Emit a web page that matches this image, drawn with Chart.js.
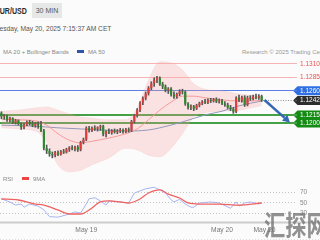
<!DOCTYPE html>
<html>
<head>
<meta charset="utf-8">
<script src="https://cdn.jsdelivr.net/npm/chart.js@4.4.0/dist/chart.umd.min.js"></script>
<style>
html, body { margin: 0; padding: 0; background: #fbfbfb; }
body { width: 320px; height: 240px; overflow: hidden; position: relative; font-family: "Liberation Sans", Arial, sans-serif; }
.abs { position: absolute; white-space: nowrap; line-height: 1; }
#pair { left: -4.7px; top: 7.2px; font-size: 9.3px; font-weight: bold; color: #2a2a2a; transform: scaleX(0.76); transform-origin: 0 0; }
#tf { left: 32px; top: 3px; width: 30px; height: 15px; background: #e6e8e8; color: #555; font-size: 7px; display: flex; align-items: center; justify-content: center; }
#date { left: -7.8px; top: 25px; font-size: 7.4px; color: #555; transform: scaleX(0.9); transform-origin: 0 0; }
#legend { left: -9px; top: 48.9px; font-size: 6px; color: #888; }
.sw { display: inline-block; width: 7px; height: 2.5px; vertical-align: 1px; }
#copy { left: 242px; top: 48.9px; font-size: 6px; color: #999; }
#rsiLegend { left: 3px; top: 175.9px; font-size: 6px; color: #888; z-index: 2; }
#mark { left: 264px; top: 210px; font-size: 28px; font-weight: bold; color: rgba(110,110,110,0.75); font-family: "Noto Sans CJK SC", sans-serif; transform: scaleX(0.76); transform-origin: 0 0; z-index: 3; }
canvas { position: absolute; left: 0; }
#main { top: 56px; }
#rsi { top: 178px; }
</style>
</head>
<body>
<div id="pair" class="abs">EUR/USD</div>
<div id="tf" class="abs">30 MIN</div>
<div id="date" class="abs">Tuesday, May 20, 2025 7:15:37 AM CET</div>
<div id="legend" class="abs"><span class="sw" style="background:#f4a0a0;margin-right:5px"></span>MA 20 + Bollinger Bands<span class="sw" style="background:#2f55a8;margin-left:8px;margin-right:4px"></span>MA 50</div>
<div id="copy" class="abs">Research © 2025 Trading Central</div>
<canvas id="main" width="320" height="122"></canvas>
<canvas id="rsi" width="320" height="62"></canvas>
<div id="rsiLegend" class="abs">RSI<span class="sw" style="background:#ee4444;margin-left:9px;margin-right:4px"></span>9MA</div>
<div id="mark" class="abs">汇探网</div>
<script>
// 30 min candles, index 0 = May 18 21:00 ... 92 = May 20 07:00
const opens = [1.1219, 1.1212, 1.1214, 1.1206, 1.1209, 1.1201, 1.1205, 1.1198, 1.1192, 1.1197,
    1.1202, 1.1199, 1.1195, 1.1199, 1.1196, 1.1186, 1.1153, 1.1148, 1.1142, 1.1140,
    1.1145, 1.1141, 1.1147, 1.1145, 1.1151, 1.1154, 1.1152, 1.1155, 1.1150, 1.1164,
    1.1169, 1.1190, 1.1186, 1.1191, 1.1189, 1.1192, 1.1194, 1.1179, 1.1184, 1.1182,
    1.1186, 1.1183, 1.1185, 1.1187, 1.1184, 1.1188, 1.1186, 1.1203, 1.1214, 1.1224,
    1.1238, 1.1246, 1.1255, 1.1265, 1.1274, 1.1280, 1.1284, 1.1272, 1.1268, 1.1261,
    1.1264, 1.1253, 1.1249, 1.1254, 1.1259, 1.1258, 1.1236, 1.1229, 1.1231, 1.1227,
    1.1233, 1.1237, 1.1240, 1.1238, 1.1243, 1.1241, 1.1244, 1.1240, 1.1242, 1.1236,
    1.1234, 1.1229, 1.1226, 1.1221, 1.1247, 1.1243, 1.1248, 1.1234, 1.1247, 1.1245,
    1.1249, 1.1247, 1.1250];
const highs = [1.1221, 1.1216, 1.1215, 1.1211, 1.1210, 1.1207, 1.1206, 1.1200, 1.1199, 1.1204,
    1.1205, 1.1203, 1.1201, 1.1202, 1.1203, 1.1188, 1.1159, 1.1152, 1.1146, 1.1147,
    1.1148, 1.1149, 1.1151, 1.1153, 1.1156, 1.1158, 1.1157, 1.1158, 1.1166, 1.1172,
    1.1193, 1.1194, 1.1193, 1.1195, 1.1193, 1.1196, 1.1196, 1.1186, 1.1189, 1.1188,
    1.1189, 1.1188, 1.1190, 1.1189, 1.1190, 1.1191, 1.1205, 1.1216, 1.1227, 1.1240,
    1.1249, 1.1258, 1.1268, 1.1277, 1.1284, 1.1287, 1.1286, 1.1276, 1.1271, 1.1266,
    1.1266, 1.1258, 1.1256, 1.1262, 1.1263, 1.1260, 1.1238, 1.1234, 1.1233, 1.1235,
    1.1239, 1.1242, 1.1244, 1.1245, 1.1246, 1.1246, 1.1247, 1.1245, 1.1244, 1.1240,
    1.1237, 1.1233, 1.1229, 1.1249, 1.1252, 1.1250, 1.1251, 1.1250, 1.1251, 1.1252,
    1.1254, 1.1253, 1.1252];
const lows = [1.1208, 1.1207, 1.1203, 1.1202, 1.1199, 1.1198, 1.1196, 1.1188, 1.1189, 1.1195,
    1.1196, 1.1193, 1.1192, 1.1190, 1.1184, 1.1150, 1.1143, 1.1138, 1.1135, 1.1137,
    1.1139, 1.1140, 1.1143, 1.1144, 1.1147, 1.1150, 1.1148, 1.1147, 1.1148, 1.1161,
    1.1167, 1.1183, 1.1184, 1.1186, 1.1185, 1.1186, 1.1176, 1.1174, 1.1180, 1.1179,
    1.1181, 1.1180, 1.1182, 1.1181, 1.1182, 1.1183, 1.1184, 1.1200, 1.1211, 1.1221,
    1.1234, 1.1243, 1.1252, 1.1262, 1.1268, 1.1275, 1.1270, 1.1264, 1.1258, 1.1255,
    1.1250, 1.1246, 1.1246, 1.1251, 1.1254, 1.1233, 1.1226, 1.1225, 1.1223, 1.1225,
    1.1230, 1.1234, 1.1236, 1.1236, 1.1238, 1.1239, 1.1238, 1.1237, 1.1234, 1.1231,
    1.1227, 1.1223, 1.1218, 1.1219, 1.1240, 1.1239, 1.1231, 1.1232, 1.1242, 1.1243,
    1.1245, 1.1244, 1.1240];
const closes = [1.1212, 1.1214, 1.1206, 1.1209, 1.1201, 1.1205, 1.1198, 1.1192, 1.1197, 1.1202,
    1.1199, 1.1195, 1.1199, 1.1196, 1.1186, 1.1153, 1.1148, 1.1142, 1.1140, 1.1145,
    1.1141, 1.1147, 1.1145, 1.1151, 1.1154, 1.1152, 1.1155, 1.1150, 1.1164, 1.1169,
    1.1190, 1.1186, 1.1191, 1.1189, 1.1192, 1.1194, 1.1179, 1.1184, 1.1182, 1.1186,
    1.1183, 1.1185, 1.1187, 1.1184, 1.1188, 1.1186, 1.1203, 1.1214, 1.1224, 1.1238,
    1.1246, 1.1255, 1.1265, 1.1274, 1.1280, 1.1284, 1.1272, 1.1268, 1.1261, 1.1264,
    1.1253, 1.1249, 1.1254, 1.1259, 1.1258, 1.1236, 1.1229, 1.1231, 1.1227, 1.1233,
    1.1237, 1.1240, 1.1238, 1.1243, 1.1241, 1.1244, 1.1240, 1.1242, 1.1236, 1.1234,
    1.1229, 1.1226, 1.1221, 1.1247, 1.1243, 1.1248, 1.1234, 1.1247, 1.1245, 1.1249,
    1.1247, 1.1250, 1.1242];

// indicator lines, read at a few candle indexes
const bandIdx = [0, 6, 12, 16, 20, 24, 28, 32, 38, 44, 48, 52, 56, 60, 64, 68, 72, 78, 84, 88, 92];
const bbUpper = [1.1222, 1.1224, 1.1228, 1.1230, 1.1224, 1.1217, 1.1211, 1.1209, 1.1206, 1.1206,
    1.1228, 1.1280, 1.1314, 1.1312, 1.1299, 1.1273, 1.1263, 1.1260, 1.1254, 1.1252, 1.1250];
const bbLower = [1.1191, 1.1189, 1.1185, 1.1165, 1.1122, 1.1109, 1.1112, 1.1122, 1.1135, 1.1153,
    1.1150, 1.1140, 1.1137, 1.1153, 1.1180, 1.1211, 1.1219, 1.1222, 1.1224, 1.1228, 1.1232];
const ma20 = [1.1207, 1.1206, 1.1204, 1.1196, 1.1180, 1.1168, 1.1163, 1.1166, 1.1172, 1.1180,
    1.1189, 1.1206, 1.1224, 1.1239, 1.1250, 1.1250, 1.1247, 1.1243, 1.1241, 1.1241, 1.1242];
const ma50Idx = [0, 12, 20, 28, 36, 44, 52, 56, 64, 72, 78, 84, 92];
const ma50 = [1.1196, 1.1194, 1.1191, 1.1189, 1.1187, 1.1185, 1.1187, 1.1191, 1.1202, 1.1215,
    1.1222, 1.1232, 1.1241];

const rsiIdx = [0, 3, 5, 7, 8, 10, 13, 15, 17, 20, 24, 26, 28, 30, 31, 33, 35, 37, 38, 42,
    45, 47, 51, 54, 56, 58, 60, 61, 63, 65, 67, 68, 70, 74, 77, 81, 83, 84, 86, 88, 91, 92];
const rsi = [58, 52, 46, 48, 42, 48, 44, 37, 24, 23, 29, 33, 31, 48, 58, 60, 54, 46, 54, 52,
    50, 69, 77, 80, 75, 69, 56, 52, 57, 48, 42, 42, 50, 52, 50, 40, 52, 44, 50, 52, 48, 50];
const rsiMaIdx = [0, 6, 12, 15, 20, 24, 28, 31, 35, 38, 42, 45, 49, 52, 56, 59, 63, 66, 70, 77, 84, 92];
const rsiMa = [57.6, 55.7, 48, 46, 36.7, 29, 29, 36.7, 52, 54, 52, 50, 57.6, 69, 75, 67, 59.5, 50,
    48, 48, 46, 50];

// key levels on the price axis
const levels = [1.1310, 1.1285, 1.1260, 1.1242, 1.1215, 1.1200];
const lastPrice = 1.1242;
const arrowFrom = [93, 1.1243];
const arrowTo = [102, 1.1201];

const dayTicks = [30, 78, 93];
const dayLabels = ['May 19', 'May 20', 'May 20'];

const rsiTicks = [70, 50, 30];

// styles
const FONT = '"Liberation Sans", Arial, sans-serif';
Chart.defaults.font.family = FONT;
const UP = '#e13b3b';
const DOWN = '#2b8a2b';
const levelLine = ['#f7b4b4', '#f7b4b4', '#5b7fe6', 'rgba(0,0,0,0)', '#46a046', '#46a046'];
const levelTag = [null, null, '#2f6fe4', '#2d2d2d', '#148c14', '#148c14'];

const pts = (idx, vals) => idx.map((x, k) => ({x: x, y: vals[k]}));
const candleIdx = closes.map((c, i) => i);

const fixAxis = (w, h) => (s) => {
    if (w !== null) s.width = w;
    if (h !== null) s.height = h;
    s.paddingTop = 0; s.paddingBottom = 0; s.paddingLeft = 0; s.paddingRight = 0;
};

const tagPlugin = {
    id: 'tags',
    beforeDraw(chart) {
        const ctx = chart.ctx;
        const y = chart.scales.y;
        const left = chart.chartArea.right;
        levels.forEach((v, k) => {
            if (!levelTag[k]) return;
            const py = y.getPixelForValue(v);
            ctx.save();
            ctx.fillStyle = levelTag[k];
            ctx.beginPath();
            ctx.moveTo(left - 4, py);
            ctx.lineTo(left + 0.5, py - 4.5);
            ctx.lineTo(chart.width, py - 4.5);
            ctx.lineTo(chart.width, py + 4.5);
            ctx.lineTo(left + 0.5, py + 4.5);
            ctx.closePath();
            ctx.fill();
            ctx.restore();
        });
    },
    afterDatasetsDraw(chart) {
        const ctx = chart.ctx;
        const sx = chart.scales.x, sy = chart.scales.y;
        const x0 = sx.getPixelForValue(arrowFrom[0]), y0 = sy.getPixelForValue(arrowFrom[1]);
        const x1 = sx.getPixelForValue(arrowTo[0]), y1 = sy.getPixelForValue(arrowTo[1]);
        const a = Math.atan2(y1 - y0, x1 - x0);
        const head = 7;
        ctx.save();
        ctx.strokeStyle = '#3567b5';
        ctx.fillStyle = '#3567b5';
        ctx.lineWidth = 2.5;
        ctx.beginPath();
        ctx.moveTo(x0, y0);
        ctx.lineTo(x1 - head * Math.cos(a), y1 - head * Math.sin(a));
        ctx.stroke();
        ctx.beginPath();
        ctx.moveTo(x1, y1);
        ctx.lineTo(x1 - head * Math.cos(a) + 4 * Math.sin(a), y1 - head * Math.sin(a) - 4 * Math.cos(a));
        ctx.lineTo(x1 - head * Math.cos(a) - 4 * Math.sin(a), y1 - head * Math.sin(a) + 4 * Math.cos(a));
        ctx.closePath();
        ctx.fill();
        ctx.restore();
    }
};

new Chart(document.getElementById('main'), {
    type: 'bar',
    data: {
        datasets: [{
            type: 'bar',
            data: candleIdx.map(i => ({x: i, y: [opens[i], closes[i]]})),
            backgroundColor: ctx => closes[ctx.dataIndex] >= opens[ctx.dataIndex] ? UP : DOWN,
            categoryPercentage: 1,
            barPercentage: 0.75,
            grouped: false
        }, {
            type: 'bar',
            data: candleIdx.map(i => ({x: i, y: [lows[i], highs[i]]})),
            backgroundColor: '#555',
            barThickness: 1,
            grouped: false
        }, {
            type: 'line',
            data: [{x: candleIdx.length - 0.5, y: lastPrice}, {x: 104.5, y: lastPrice}],
            borderColor: '#8a8a8a',
            borderWidth: 1,
            borderDash: [1, 1.5],
            pointRadius: 0
        }, {
            type: 'line',
            data: pts(bandIdx, ma20),
            borderColor: '#f39a9a',
            borderWidth: 1,
            pointRadius: 0,
            cubicInterpolationMode: 'monotone'
        }, {
            type: 'line',
            data: pts(ma50Idx, ma50),
            borderColor: '#9298bc',
            borderWidth: 1,
            pointRadius: 0,
            cubicInterpolationMode: 'monotone'
        }, {
            type: 'line',
            data: pts(bandIdx, bbUpper),
            borderColor: 'rgba(245,160,160,0.35)',
            borderWidth: 0.5,
            backgroundColor: 'rgba(248,160,160,0.28)',
            fill: '+1',
            pointRadius: 0,
            cubicInterpolationMode: 'monotone'
        }, {
            type: 'line',
            data: pts(bandIdx, bbLower),
            borderColor: 'rgba(245,160,160,0.35)',
            borderWidth: 0.5,
            fill: false,
            pointRadius: 0,
            cubicInterpolationMode: 'monotone'
        }]
    },
    options: {
        responsive: false,
        animation: false,
        devicePixelRatio: 1,
        layout: { padding: 0 },
        scales: {
            x: { type: 'linear', min: -0.5, max: 104.5, offset: false, display: false },
            y: {
                position: 'right',
                min: 1.10975,
                max: 1.13249,
                afterFit: fixAxis(23, null),
                afterBuildTicks: s => { s.ticks = levels.map(v => ({value: v})); },
                ticks: {
                    autoSkip: false,
                    padding: 3,
                    font: { size: 6.5 },
                    color: ctx => levelTag[ctx.index] ? '#ffffff' : '#ee4f4f',
                    callback: v => v.toFixed(4)
                },
                grid: {
                    drawTicks: false,
                    color: ctx => levelLine[ctx.index],
                    lineWidth: ctx => ctx.index >= 4 ? 2 : 1
                },
                border: { display: false }
            }
        },
        plugins: { legend: { display: false }, tooltip: { enabled: false } }
    },
    plugins: [tagPlugin]
});

const rsiPlugin = {
    id: 'rsiFrame',
    afterDraw(chart) {
        const ctx = chart.ctx;
        const b = chart.chartArea.bottom;
        ctx.save();
        ctx.fillStyle = '#cdcdcd';
        ctx.fillRect(0, b - 0.5, chart.width, 2);
        ctx.strokeStyle = '#dddddd';
        ctx.lineWidth = 1;
        ctx.setLineDash([1, 2]);
        ctx.beginPath();
        ctx.moveTo(0, chart.height - 0.5);
        ctx.lineTo(chart.width, chart.height - 0.5);
        ctx.stroke();
        ctx.restore();
    }
};

new Chart(document.getElementById('rsi'), {
    type: 'line',
    data: {
        datasets: [{
            data: pts(rsiMaIdx, rsiMa),
            borderColor: '#f06262',
            borderWidth: 1.3,
            pointRadius: 0,
            cubicInterpolationMode: 'monotone'
        }, {
            data: pts(rsiIdx, rsi),
            borderColor: '#a7b4f0',
            borderWidth: 1,
            pointRadius: 0
        }]
    },
    options: {
        responsive: false,
        animation: false,
        devicePixelRatio: 1,
        layout: { padding: 0 },
        scales: {
            x: {
                type: 'linear', min: -0.5, max: 104.5, offset: false,
                afterFit: fixAxis(null, 18),
                afterBuildTicks: s => { s.ticks = dayTicks.map(v => ({value: v})); },
                ticks: {
                    autoSkip: false, maxRotation: 0, padding: 4,
                    font: { size: 6.7 }, color: '#777',
                    callback: (v) => dayLabels[dayTicks.indexOf(v)]
                },
                grid: { display: false, drawTicks: false },
                border: { display: false }
            },
            y: {
                position: 'right', min: 13.8, max: 97.6,
                afterFit: fixAxis(23, null),
                afterBuildTicks: s => { s.ticks = rsiTicks.map(v => ({value: v})); },
                ticks: { autoSkip: false, padding: 3, font: { size: 6.5 }, color: '#888' },
                grid: { drawTicks: false, color: '#c4c4c4', lineWidth: 1 },
                border: { display: false, dash: [1, 2] }
            }
        },
        plugins: { legend: { display: false }, tooltip: { enabled: false } }
    },
    plugins: [rsiPlugin]
});
</script>
</body>
</html>
